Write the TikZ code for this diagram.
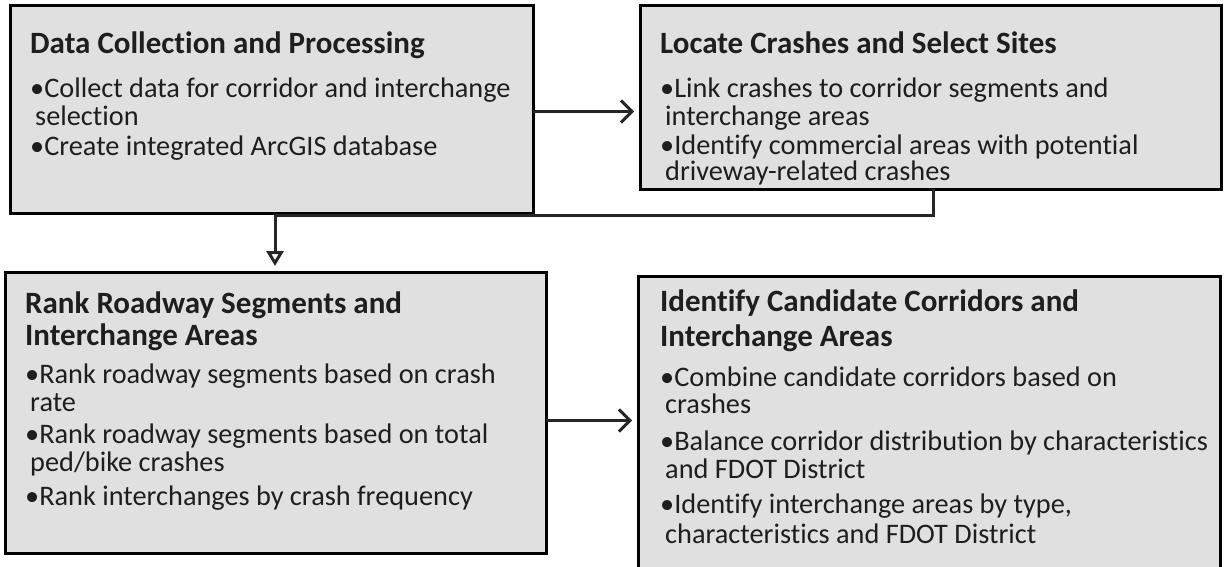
\documentclass[tikz,border=0pt]{standalone}
\usepackage{fontspec}
\setmainfont{Carlito}[Ligatures=NoCommon]
\usetikzlibrary{arrows.meta}
\definecolor{boxfill}{RGB}{224,224,224}
\definecolor{txtc}{RGB}{30,30,30}
\newcommand\tline[4]{\node[txt] (#1) at (#2,#3) {#4};}
\newcommand\hdline[4]{\node[ttl] (#1) at (#2,#3) {#4};}
\begin{document}
\begin{tikzpicture}[x=1pt,y=-1pt,
  box/.style={draw=black,line width=3pt,fill=boxfill,inner sep=0pt,outer sep=0pt,anchor=north west},
  ttl/.style={anchor=mid west,inner sep=0pt,font=\fontsize{31}{33}\selectfont\bfseries,text=txtc},
  txt/.style={anchor=mid west,inner sep=0pt,font=\fontsize{28.3}{29}\selectfont,text=txtc},
  arr/.style={line width=3pt,draw=black!85,-{Straight Barb[length=11pt,width=22pt,line width=3pt]},shorten >=6pt},
  elbow/.style={line width=3pt,draw=black!85,-{Triangle[open,length=15pt,width=17pt,line width=3pt]}},
]
\useasboundingbox (0,0) rectangle (1225,567);
% boxes
\node[box,minimum width=523pt,minimum height=207pt] (b1) at (10,6) {};
\node[box,minimum width=581pt,minimum height=183pt] (b2) at (640,6) {};
\node[box,minimum width=541pt,minimum height=281pt] (b3) at (5,272) {};
\node[box,minimum width=582pt,minimum height=300pt] (b4) at (638,276) {};
% connectors
\draw[arr] ([yshift=-2pt]b1.east) -- ([yshift=-2pt]b1.east -| b2.west);
\draw[elbow] ([xshift=293pt]b2.south west) -- ++(0,26) -| ([xshift=270pt,yshift=6pt]b3.north west);
\draw[arr] ([yshift=-8pt]b3.east) -- ([yshift=-8pt]b3.east -| b4.west);
% box 1 text
\hdline{h1}{30}{51}{Data Collection and Processing}
\tline{t1a}{30}{95}{•Collect data for corridor and interchange}
\tline{t1b}{35}{123}{selection}
\tline{t1c}{30}{153}{•Create integrated ArcGIS database}
% box 2 text
\hdline{h2}{660}{51}{Locate Crashes and Select Sites}
\tline{t2a}{660}{95}{•Link crashes to corridor segments and}
\tline{t2b}{665}{123}{interchange areas}
\tline{t2c}{660}{152}{•Identify commercial areas with potential}
\tline{t2d}{665}{178}{driveway-related crashes}
% box 3 text
\hdline{h3a}{25}{311}{Rank Roadway Segments and}
\hdline{h3b}{25}{343}{Interchange Areas}
\tline{t3a}{25}{381}{•Rank roadway segments based on crash}
\tline{t3b}{30}{409}{rate}
\tline{t3c}{25}{441}{•Rank roadway segments based on total}
\tline{t3d}{30}{469}{ped/bike crashes}
\tline{t3e}{25}{503}{•Rank interchanges by crash frequency}
% box 4 text
\hdline{h4a}{660}{309}{Identify Candidate Corridors and}
\hdline{h4b}{660}{344}{Interchange Areas}
\tline{t4a}{660}{384}{•Combine candidate corridors based on}
\tline{t4b}{665}{411}{crashes}
\tline{t4c}{660}{448}{•Balance corridor distribution by characteristics}
\tline{t4d}{665}{476}{and FDOT District}
\tline{t4e}{660}{511}{•Identify interchange areas by type,}
\tline{t4f}{665}{541}{characteristics and FDOT District}
\end{tikzpicture}
\end{document}
